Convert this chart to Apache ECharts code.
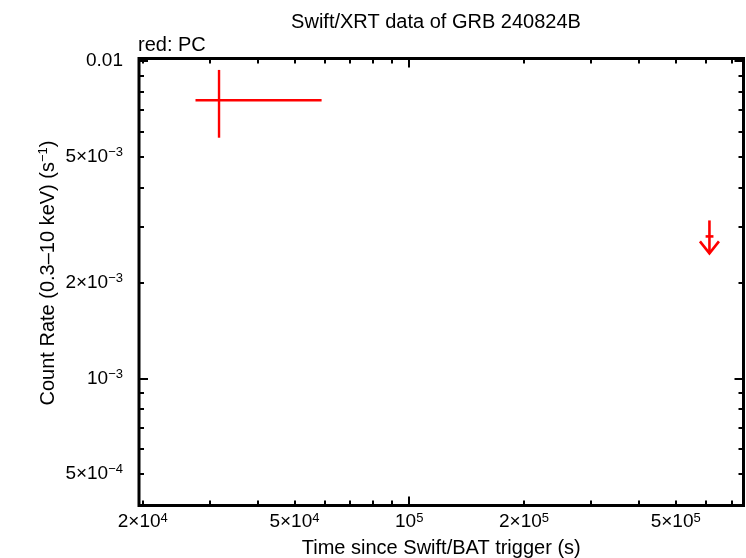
<!DOCTYPE html>
<html>
<head>
<meta charset="utf-8">
<script src="https://cdn.jsdelivr.net/npm/echarts@6/dist/echarts.min.js"></script>
<style>
  html, body { margin: 0; padding: 0; background: #fff; }
  #main { width: 746px; height: 558px; }
</style>
</head>
<body>
<div id="main"></div>
<script>
// detection: time (s), rate, x err low/high, y err low/high
var detTime = [3.17e4];
var detTimeLo = [2.75e4];
var detTimeHi = [5.89e4];
var detRate = [7.52e-3];
var detRateLo = [5.73e-3];
var detRateHi = [9.37e-3];

// upper limit
var ulTime = [6.13e5];
var ulTimeLo = [5.99e5];
var ulTimeHi = [6.28e5];
var ulRate = [2.8e-3];

// axis ranges and ticks
var xRange = [1.955e4, 7.53e5];
var yRange = [3.975e-4, 1.018e-2];
var xLabelVals = [2e4, 5e4, 1e5, 2e5, 5e5];
var xLabelText = ['{b|2×10}{s|4}', '{b|5×10}{s|4}', '{b|10}{s|5}', '{b|2×10}{s|5}', '{b|5×10}{s|5}'];
var xMajorTicks = [1e5];
var xMinorTicks = [2e4, 3e4, 4e4, 5e4, 6e4, 7e4, 8e4, 9e4, 2e5, 3e5, 4e5, 5e5, 6e5, 7e5];
var yLabelVals = [5e-4, 1e-3, 2e-3, 5e-3, 1e-2];
var yLabelText = ['{b|5×10}{s|−4}', '{b|10}{s|−3}', '{b|2×10}{s|−3}', '{b|5×10}{s|−3}', '{b|0.01}'];
var yMajorTicks = [1e-3, 1e-2];
var yMinorTicks = [4e-4, 5e-4, 6e-4, 7e-4, 8e-4, 9e-4, 2e-3, 3e-3, 4e-3, 5e-3, 6e-3, 7e-3, 8e-3, 9e-3];

function lg(v) { return Math.log10(v); }
function lgs(arr) { return arr.map(lg); }

var fontFam = '"Liberation Sans", Arial, sans-serif';
var rich = {
	b: {fontSize: 19, fontFamily: fontFam, color: '#000'},
	s: {fontSize: 13, fontFamily: fontFam, color: '#000', verticalAlign: 'top', padding: [0, 0, 8, 0]}
};
var richName = {
	b: {fontSize: 20, fontFamily: fontFam, color: '#000'},
	s: {fontSize: 13, fontFamily: fontFam, color: '#000', verticalAlign: 'top', padding: [0, 0, 9, 0]}
};

function labelFmt(vals, texts) {
	return function (v) {
		for (var i = 0; i < vals.length; i++) {
			if (Math.abs(lg(vals[i]) - v) < 1e-6) return texts[i];
		}
		return '';
	};
}

function tickAxis(kind, pos, ticks, len, withLabels) {
	var range = kind === 'x' ? xRange : yRange;
	var ax = {
		type: 'value',
		position: pos,
		min: lg(range[0]),
		max: lg(range[1]),
		splitLine: {show: false},
		axisLine: {show: false},
		axisTick: {show: true, inside: true, length: len, customValues: lgs(ticks),
			lineStyle: {color: '#000', width: 2}},
		axisLabel: {show: false}
	};
	if (withLabels) {
		var vals = kind === 'x' ? xLabelVals : yLabelVals;
		var texts = kind === 'x' ? xLabelText : yLabelText;
		ax.axisLabel = {show: true, customValues: lgs(vals), formatter: labelFmt(vals, texts),
			rich: rich, margin: kind === 'x' ? 6 : 16};
	}
	return ax;
}

var xAxes = [
	tickAxis('x', 'bottom', xMinorTicks, 5, true),
	tickAxis('x', 'bottom', xMajorTicks, 9, false),
	tickAxis('x', 'top', xMinorTicks, 5, false),
	tickAxis('x', 'top', xMajorTicks, 9, false)
];
xAxes[0].name = 'Time since Swift/BAT trigger (s)';
xAxes[0].nameLocation = 'middle';
xAxes[0].nameGap = 33;
xAxes[0].nameTextStyle = {fontSize: 20, fontFamily: fontFam, color: '#000'};

var yAxes = [
	tickAxis('y', 'left', yMinorTicks, 5, true),
	tickAxis('y', 'left', yMajorTicks, 9, false),
	tickAxis('y', 'right', yMinorTicks, 5, false),
	tickAxis('y', 'right', yMajorTicks, 9, false)
];
yAxes[0].name = '{b|Count Rate (0.3–10 keV) (s}{s|−1}{b|)}';
yAxes[0].nameLocation = 'middle';
yAxes[0].nameGap = 80;
yAxes[0].nameMoveOverlap = false;
yAxes[0].nameTextStyle = {rich: richName, padding: [0, 0, 0, 18]};

var detData = detTime.map(function (t, i) {
	return [lg(t), lg(detRate[i]), lg(detTimeLo[i]), lg(detTimeHi[i]), lg(detRateLo[i]), lg(detRateHi[i])];
});
var ulData = ulTime.map(function (t, i) {
	return [lg(t), lg(ulRate[i]), lg(ulTimeLo[i]), lg(ulTimeHi[i])];
});

var red = '#ff0000';

var option = {
	animation: false,
	backgroundColor: '#fff',
	title: [
		{text: 'Swift/XRT data of GRB 240824B', left: 431, top: 7, textAlign: 'center',
			textStyle: {fontSize: 20, fontWeight: 'normal', fontFamily: fontFam, color: '#000'}},
		{text: 'red: PC', left: 133, top: 30,
			textStyle: {fontSize: 20, fontWeight: 'normal', fontFamily: fontFam, color: '#000'}}
	],
	grid: {left: 139, right: 2.5, top: 58.5, bottom: 52.5, show: true, outerBoundsMode: 'none',
		containLabel: false, borderColor: '#000', borderWidth: 3, backgroundColor: 'transparent'},
	xAxis: xAxes,
	yAxis: yAxes,
	series: [
		{
			type: 'custom',
			xAxisIndex: 0, yAxisIndex: 0,
			data: detData,
			renderItem: function (params, api) {
				var c = api.coord([api.value(0), api.value(1)]);
				var xl = api.coord([api.value(2), api.value(1)]);
				var xh = api.coord([api.value(3), api.value(1)]);
				var yl = api.coord([api.value(0), api.value(4)]);
				var yh = api.coord([api.value(0), api.value(5)]);
				var st = {stroke: red, lineWidth: 2.4};
				return {type: 'group', children: [
					{type: 'line', shape: {x1: xl[0], y1: c[1], x2: xh[0], y2: c[1]}, style: st},
					{type: 'line', shape: {x1: c[0], y1: yl[1], x2: c[0], y2: yh[1]}, style: st}
				]};
			}
		},
		{
			type: 'custom',
			xAxisIndex: 0, yAxisIndex: 0,
			data: ulData,
			renderItem: function (params, api) {
				var c = api.coord([api.value(0), api.value(1)]);
				var xl = api.coord([api.value(2), api.value(1)]);
				var xh = api.coord([api.value(3), api.value(1)]);
				var st = {stroke: red, lineWidth: 2.6, fill: null};
				var tip = c[1] + 17;
				return {type: 'group', children: [
					{type: 'line', shape: {x1: xl[0], y1: c[1], x2: xh[0], y2: c[1]}, style: st},
					{type: 'line', shape: {x1: c[0], y1: c[1] - 16, x2: c[0], y2: tip}, style: st},
					{type: 'polyline', shape: {points: [[c[0] - 9.5, tip - 12], [c[0], tip], [c[0] + 9.5, tip - 12]]}, style: st}
				]};
			}
		}
	]
};

var chart = echarts.init(document.getElementById('main'));
chart.setOption(option);
</script>
</body>
</html>
